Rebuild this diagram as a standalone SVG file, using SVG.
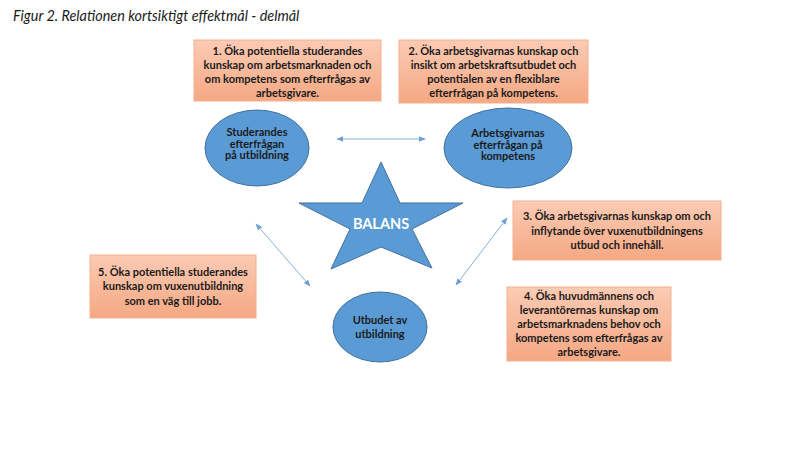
<svg xmlns="http://www.w3.org/2000/svg" width="800" height="450" viewBox="0 0 800 450">
<defs>
<linearGradient id="boxg" x1="0" y1="0" x2="0" y2="1">
<stop offset="0" stop-color="#fbcbb4"/>
<stop offset="1" stop-color="#f5a883"/>
</linearGradient>
<marker id="ah" viewBox="0 0 10 10" refX="9" refY="5" markerWidth="7" markerHeight="7" orient="auto-start-reverse" markerUnits="userSpaceOnUse">
<path d="M0,1 L10,5 L0,9 z" fill="#6f9fd0"/>
</marker>
<style>
.box{fill:url(#boxg);stroke:#f3b08f;stroke-width:1}
.ell{fill:#5b9bd5;stroke:#41719c;stroke-width:1}
.t{font-family:Lato,"Open Sans","Liberation Sans",sans-serif;font-weight:bold;font-size:11px;fill:#1a1a1a;text-anchor:middle}
.te{font-family:Lato,"Open Sans","Liberation Sans",sans-serif;font-weight:bold;font-size:11px;fill:#1a1a1a;text-anchor:middle}
.con{stroke:#7aa6d6;stroke-width:0.9;fill:none;marker-start:url(#ah);marker-end:url(#ah)}
</style>
</defs>
<rect width="800" height="450" fill="#ffffff"/>
<text x="13" y="21" font-family="Lato,'Open Sans','Liberation Sans',sans-serif" font-style="italic" font-size="14.4" fill="#1a1a1a">Figur 2. Relationen  kortsiktigt effektmål - delmål</text>

<g id="goal1">
<rect class="box" x="194" y="40" width="187" height="61"/>
<text class="t" x="287.5" y="55">1. Öka potentiella studerandes</text>
<text class="t" x="287.5" y="69">kunskap om arbetsmarknaden  och</text>
<text class="t" x="287.5" y="83">om kompetens som efterfrågas av</text>
<text class="t" x="287.5" y="97">arbetsgivare.</text>
</g>
<g id="goal2">
<rect class="box" x="399" y="40" width="189" height="63"/>
<text class="t" x="493.5" y="55">2. Öka arbetsgivarnas  kunskap och</text>
<text class="t" x="493.5" y="69">insikt om arbetskraftsutbudet  och</text>
<text class="t" x="493.5" y="83">potentialen av en flexiblare</text>
<text class="t" x="493.5" y="97">efterfrågan på kompetens.</text>
</g>
<g id="goal3">
<rect class="box" x="513" y="201" width="208" height="59"/>
<text class="t" x="617" y="220">3. Öka arbetsgivarnas  kunskap om och</text>
<text class="t" x="617" y="235">inflytande över vuxenutbildningens</text>
<text class="t" x="617" y="249">utbud och innehåll.</text>
</g>
<g id="goal5">
<rect class="box" x="90" y="255" width="166" height="63"/>
<text class="t" x="173" y="276">5. Öka potentiella studerandes</text>
<text class="t" x="173" y="290">kunskap om vuxenutbildning</text>
<text class="t" x="173" y="305">som en väg till jobb.</text>
</g>
<g id="goal4">
<rect class="box" x="507" y="287" width="164" height="74"/>
<text class="t" x="589" y="300">4. Öka huvudmännens  och</text>
<text class="t" x="589" y="314">leverantörernas kunskap om</text>
<text class="t" x="589" y="328">arbetsmarknadens  behov och</text>
<text class="t" x="589" y="342">kompetens som efterfrågas av</text>
<text class="t" x="589" y="356">arbetsgivare.</text>
</g>

<g id="studerande">
<ellipse class="ell" cx="257" cy="148" rx="52" ry="38"/>
<text class="te" x="257" y="136">Studerandes</text>
<text class="te" x="257" y="147.5">efterfrågan</text>
<text class="te" x="257" y="159">på utbildning</text>
</g>
<g id="arbetsgivare">
<ellipse class="ell" cx="508" cy="148" rx="64" ry="40"/>
<text class="te" x="508" y="137">Arbetsgivarnas</text>
<text class="te" x="508" y="148.5">efterfrågan på</text>
<text class="te" x="508" y="160">kompetens</text>
</g>
<g id="utbud">
<ellipse class="ell" cx="380" cy="327" rx="47" ry="35"/>
<text class="te" x="380" y="324">Utbudet av</text>
<text class="te" x="380" y="338">utbildning</text>
</g>
<g id="balans">
<polygon fill="#5b9bd5" stroke="#41719c" stroke-width="1" points="381,162 400,203 463,203 412,229 432,268 381,247 331,269 350,229 299,203 362,203"/>
<text x="381" y="229" font-family="Lato,'Open Sans','Liberation Sans',sans-serif" font-weight="bold" font-size="14.5" fill="#ffffff" text-anchor="middle">BALANS</text>
</g>

<g id="connectors">
<line class="con" x1="337" y1="139" x2="425" y2="139"/>
<line class="con" x1="256" y1="224" x2="310" y2="286"/>
<line class="con" x1="507" y1="218" x2="456" y2="285"/>
</g>
</svg>
